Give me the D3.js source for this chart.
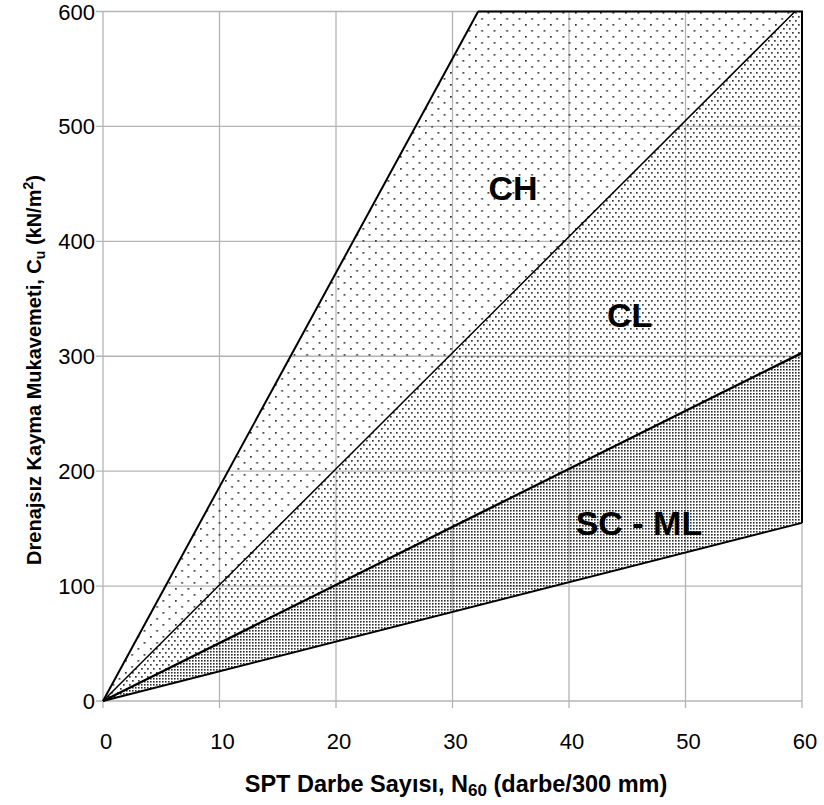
<!DOCTYPE html>
<html><head><meta charset="utf-8">
<script src="https://cdn.jsdelivr.net/npm/d3@7/dist/d3.min.js"></script>
<style>body{margin:0;background:#fff}svg{display:block;font-family:Arial,"Liberation Sans",sans-serif}</style>
</head><body><svg id="c" width="824" height="805"></svg>
<script>
// Data
const xTicks = [0, 10, 20, 30, 40, 50, 60];
const yTicks = [0, 100, 200, 300, 400, 500, 600];
// Boundary lines from origin: end points (N60, Cu)
const boundaryNames = ["CH upper", "CH/CL", "CL/SC-ML", "SC-ML lower"];
const boundaryN = [32.2, 59.4, 60, 60];
const boundaryCu = [600, 600, 303, 155];
// Zone labels
const zoneNames = ["CH", "CL", "SC - ML"];
const zoneN = [35.2, 45.2, 46.0];
const zoneCu = [446, 336, 155];

const svg = d3.select("#c");
const x = d3.scaleLinear().domain([0, 60]).range([103, 802]);
const y = d3.scaleLinear().domain([0, 600]).range([701, 11.5]);

// Patterns
const defs = svg.append("defs");
function pat(id, w, h, pts, s, col) {
  const p = defs.append("pattern").attr("id", id).attr("patternUnits", "userSpaceOnUse")
    .attr("width", w).attr("height", h);
  pts.forEach(d => p.append("rect").attr("x", d[0]).attr("y", d[1]).attr("width", s).attr("height", s).attr("fill", col));
}
pat("pCH", 12.5, 12, [[0, 0], [6.25, 6]], 1.7, "#333");
pat("pCL", 6, 8, [[0, 0], [3, 4]], 1.7, "#3a3a3a");
pat("pSC", 3, 3, [[0, 0]], 1.6, "#2a2a2a");

// Grid
const g = svg.append("g");
xTicks.forEach(t => g.append("line").attr("x1", x(t)).attr("x2", x(t)).attr("y1", y(600)).attr("y2", y(0) + 7)
  .attr("stroke", "#b4b4b4").attr("stroke-width", 1.3));
yTicks.forEach(t => g.append("line").attr("x1", x(0) - 7).attr("x2", x(60)).attr("y1", y(t)).attr("y2", y(t))
  .attr("stroke", "#b4b4b4").attr("stroke-width", 1.3));

// Zones
const pt = (n, c) => [x(n), y(c)];
const line = d3.line();
const zones = [
  { fill: "url(#pCH)", pts: [[0, 0], [boundaryN[0], boundaryCu[0]], [boundaryN[1], boundaryCu[1]]] },
  { fill: "url(#pCL)", pts: [[0, 0], [boundaryN[1], boundaryCu[1]], [60, 600], [boundaryN[2], boundaryCu[2]]] },
  { fill: "url(#pSC)", pts: [[0, 0], [boundaryN[2], boundaryCu[2]], [boundaryN[3], boundaryCu[3]]] }
];
zones.forEach(z => svg.append("path").attr("d", line(z.pts.map(d => pt(d[0], d[1]))) + "Z")
  .attr("fill", z.fill).attr("stroke", "none"));

// Boundary lines
const widths = [2, 1.5, 2.4, 2];
boundaryN.forEach((n, i) => svg.append("path").attr("d", line([pt(0, 0), pt(n, boundaryCu[i])]))
  .attr("stroke", "#000").attr("stroke-width", widths[i]).attr("fill", "none"));
// Outer edges (top & right)
svg.append("path").attr("d", line([pt(boundaryN[0], 600), pt(60, 600), pt(60, boundaryCu[3])]))
  .attr("stroke", "#000").attr("stroke-width", 2).attr("fill", "none");

// Zone labels
zoneNames.forEach((t, i) => svg.append("text").attr("x", x(zoneN[i])).attr("y", y(zoneCu[i]))
  .attr("text-anchor", "middle").attr("dominant-baseline", "central")
  .attr("font-size", 34).attr("font-weight", "bold").attr("fill", "#000").text(t));

// Tick labels
xTicks.forEach(t => svg.append("text").attr("x", x(t) + 3).attr("y", 749).attr("text-anchor", "middle")
  .attr("font-size", 22).attr("fill", "#000").text(t));
yTicks.forEach(t => svg.append("text").attr("x", 95).attr("y", y(t) + 8).attr("text-anchor", "end")
  .attr("font-size", 22).attr("fill", "#000").text(t));

// Axis titles
const xt = svg.append("text").attr("x", 456).attr("y", 792).attr("text-anchor", "middle")
  .attr("font-size", 23.5).attr("font-weight", "bold");
xt.append("tspan").text("SPT Darbe Sayısı, N");
xt.append("tspan").attr("font-size", 17).attr("dy", 4).text("60");
xt.append("tspan").attr("dy", -4).text(" (darbe/300 mm)");

const yt = svg.append("text").attr("transform", "translate(41,370) rotate(-90)").attr("text-anchor", "middle")
  .attr("font-size", 20).attr("font-weight", "bold");
yt.append("tspan").text("Drenajsız Kayma Mukavemeti, C");
yt.append("tspan").attr("font-size", 14).attr("dy", 4).text("u");
yt.append("tspan").attr("dy", -4).text(" (kN/m");
yt.append("tspan").attr("font-size", 14).attr("dy", -8).text("2");
yt.append("tspan").attr("dy", 8).text(")");
</script></body></html>
